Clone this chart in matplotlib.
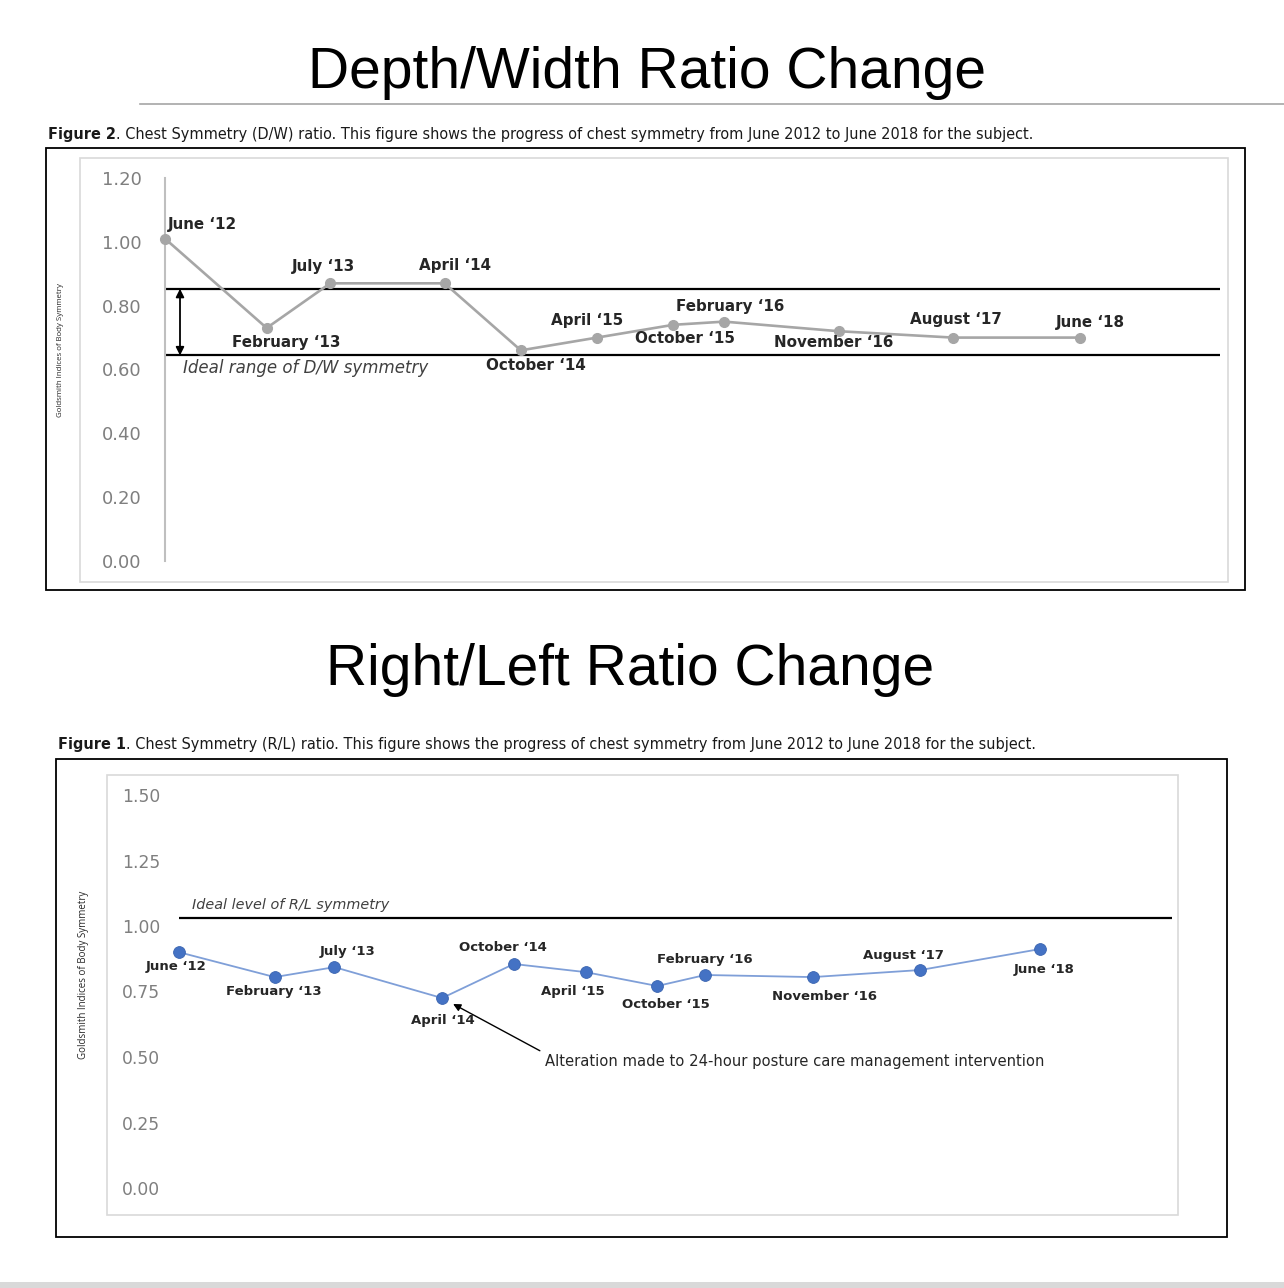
import matplotlib
matplotlib.use('Agg')
import matplotlib.pyplot as plt
from matplotlib.patches import Rectangle
from matplotlib.lines import Line2D

# 数据: 测量时间 (距 2012年6月 的月数) 与比值
months = [0, 8, 13, 22, 28, 34, 40, 44, 53, 62, 72]
visit_labels = ['June \u201812', 'February \u201813', 'July \u201813', 'April \u201814',
                'October \u201814', 'April \u201815', 'October \u201815', 'February \u201816',
                'November \u201816', 'August \u201817', 'June \u201818']
dw_ratio = [1.01, 0.73, 0.87, 0.87, 0.66, 0.70, 0.74, 0.75, 0.72, 0.70, 0.70]
rl_ratio = [0.90, 0.805, 0.843, 0.725, 0.855, 0.824, 0.771, 0.813, 0.805, 0.832, 0.912]

dw_ideal_low = 0.644
dw_ideal_high = 0.853
rl_ideal = 1.03

dw_ticks = [0.0, 0.2, 0.4, 0.6, 0.8, 1.0, 1.2]
rl_ticks = [0.0, 0.25, 0.5, 0.75, 1.0, 1.25, 1.5]

# 标签偏移 (像素)
dw_offsets = [(3, 14), (20, -14), (-7, 17), (10, 18), (15, -15), (-10, 17),
              (12, -14), (6, 15), (-5, -11), (3, 18), (10, 15)]
dw_ha = ['left'] + ['center'] * 10
rl_offsets = [(-3, -14), (-1, -14), (13, 16), (1, -22), (-11, 16), (-13, -19),
              (9, -19), (0, 15), (12, -19), (-17, 15), (4, -20)]

W, H = 1284, 1288
fig = plt.figure(figsize=(W / 100, H / 100), dpi=100)


def fx(x):
    return x / W


def fy(y):
    return 1 - y / H


def px_axes(x0, x1, y0, y1):
    return fig.add_axes([fx(x0), fy(y1), (x1 - x0) / W, (y1 - y0) / H])


def fig_rect(x0, y0, x1, y1, **kw):
    fig.patches.append(Rectangle((fx(x0), fy(y1)), (x1 - x0) / W, (y1 - y0) / H,
                                 transform=fig.transFigure, **kw))


def caption(x, y, bold, rest, size):
    t = fig.text(fx(x), fy(y), bold, fontsize=size, fontweight='bold',
                 family='DejaVu Sans', va='center', color='#1a1a1a')
    r = fig.canvas.get_renderer()
    bb = t.get_window_extent(r)
    fig.text(bb.x1 / W, fy(y), rest, fontsize=size, family='DejaVu Sans',
             va='center', color='#1a1a1a')


title_font = dict(family='Liberation Sans', fontsize=41, ha='center', va='baseline', color='black')

# ---------- 上图: D/W ----------
fig.text(fx(647), fy(88), 'Depth/Width Ratio Change', **title_font)
fig.lines.append(Line2D([fx(140), fx(1284)], [fy(104), fy(104)], transform=fig.transFigure,
                        color='#a6a6a6', linewidth=1.2))
caption(48, 135, 'Figure 2', '. Chest Symmetry (D/W) ratio. This figure shows the progress of '
        'chest symmetry from June 2012 to June 2018 for the subject.', 10.45)
fig_rect(46, 148, 1245, 590, fill=False, edgecolor='black', linewidth=1.3)
fig_rect(80, 158, 1228, 582, fill=False, edgecolor='#d9d9d9', linewidth=1.2)

k1 = (1080 - 165) / 72
ax1 = px_axes(140, 1225, 178, 561)
ax1.set_xlim((140 - 165) / k1, (1225 - 165) / k1)
ax1.set_ylim(0, 1.2)
ax1.patch.set_alpha(0)
for s in ['top', 'right', 'bottom']:
    ax1.spines[s].set_visible(False)
ax1.spines['left'].set_position(('data', 0))
ax1.spines['left'].set_color('#bfbfbf')
ax1.spines['left'].set_linewidth(1.5)
ax1.set_xticks([])
ax1.set_yticks(dw_ticks)
ax1.set_yticklabels(['%.2f' % v for v in dw_ticks], family='DejaVu Sans', fontsize=13, color='#7f7f7f')
ax1.tick_params(axis='y', length=0, pad=17)

x_end1 = (1220 - 165) / k1
ax1.hlines([dw_ideal_high, dw_ideal_low], 0, x_end1, color='black', linewidth=1.6)
ax1.annotate('', xy=(15 / k1, dw_ideal_low), xytext=(15 / k1, dw_ideal_high),
             arrowprops=dict(arrowstyle='<|-|>', color='black', lw=1.3, mutation_scale=12,
                             shrinkA=0, shrinkB=0))
ax1.plot(months, dw_ratio, color='#a6a6a6', linewidth=1.9, marker='o', markersize=7,
         markerfacecolor='#a6a6a6', markeredgecolor='#a6a6a6', clip_on=False, zorder=3)
for m, v, lab, off, ha in zip(months, dw_ratio, visit_labels, dw_offsets, dw_ha):
    ax1.annotate(lab, (m, v), xytext=off, textcoords='offset pixels', ha=ha, va='center',
                 fontsize=10.9, fontweight='bold', family='DejaVu Sans', color='#262626')
ax1.annotate('Ideal range of D/W symmetry', (0, dw_ideal_low), xytext=(18, -13),
             textcoords='offset pixels', ha='left', va='center', fontsize=12,
             style='italic', family='DejaVu Sans', color='#404040')
fig.text(fx(61), fy(350), 'Goldsmith Indices of Body Symmetry', rotation=90, ha='center',
         va='center', fontsize=5.7, family='Open Sans', color='#262626')

# ---------- 下图: R/L ----------
fig.text(fx(630), fy(685), 'Right/Left Ratio Change', **title_font)
caption(58, 745, 'Figure 1', '. Chest Symmetry (R/L) ratio. This figure shows the progress of '
        'chest symmetry from June 2012 to June 2018 for the subject.', 10.45)
fig_rect(56, 759, 1227, 1237, fill=False, edgecolor='black', linewidth=1.3)
fig_rect(107, 775, 1178, 1215, fill=False, edgecolor='#d9d9d9', linewidth=1.2)

k2 = (1040 - 179) / 72
ax2 = px_axes(165, 1178, 795, 1188)
ax2.set_xlim((165 - 179) / k2, (1178 - 179) / k2)
ax2.set_ylim(0, 1.5)
ax2.patch.set_alpha(0)
for s in ax2.spines.values():
    s.set_visible(False)
ax2.set_xticks([])
ax2.set_yticks(rl_ticks)
ax2.set_yticklabels(['%.2f' % v for v in rl_ticks], family='DejaVu Sans', fontsize=12.3, color='#7f7f7f')
ax2.tick_params(axis='y', length=0, pad=3.5)

ax2.hlines(rl_ideal, 0, (1172 - 179) / k2, color='black', linewidth=1.6)
ax2.annotate('Ideal level of R/L symmetry', (0, rl_ideal), xytext=(13, 13),
             textcoords='offset pixels', ha='left', va='center', fontsize=10.4,
             style='italic', family='DejaVu Sans', color='#404040')
ax2.plot(months, rl_ratio, color='#7f9fd8', linewidth=1.3, zorder=2)
ax2.plot(months, rl_ratio, linestyle='none', marker='o', markersize=8.5,
         markerfacecolor='#4472c4', markeredgecolor='#3a64b0', markeredgewidth=0.6,
         zorder=3, clip_on=False)
for m, v, lab, off in zip(months, rl_ratio, visit_labels, rl_offsets):
    ax2.annotate(lab, (m, v), xytext=off, textcoords='offset pixels', ha='center', va='center',
                 fontsize=9.5, fontweight='bold', family='DejaVu Sans', color='#262626')
ax2.annotate('Alteration made to 24-hour posture care management intervention',
             (months[3], rl_ratio[3]), xytext=(103, -63), textcoords='offset pixels',
             ha='left', va='center', fontsize=10.65, family='DejaVu Sans', color='#262626',
             arrowprops=dict(arrowstyle='-|>', color='black', lw=1.0, mutation_scale=11,
                             relpos=(0, 1), shrinkA=2, shrinkB=9))
fig.text(fx(84), fy(975), 'Goldsmith Indices of Body Symmetry', rotation=90, ha='center',
         va='center', fontsize=7, family='Open Sans', color='#262626')

fig_rect(0, 1282, W, H, facecolor='#d9d9d9', edgecolor='none')

fig.savefig('out.png', dpi=100)
